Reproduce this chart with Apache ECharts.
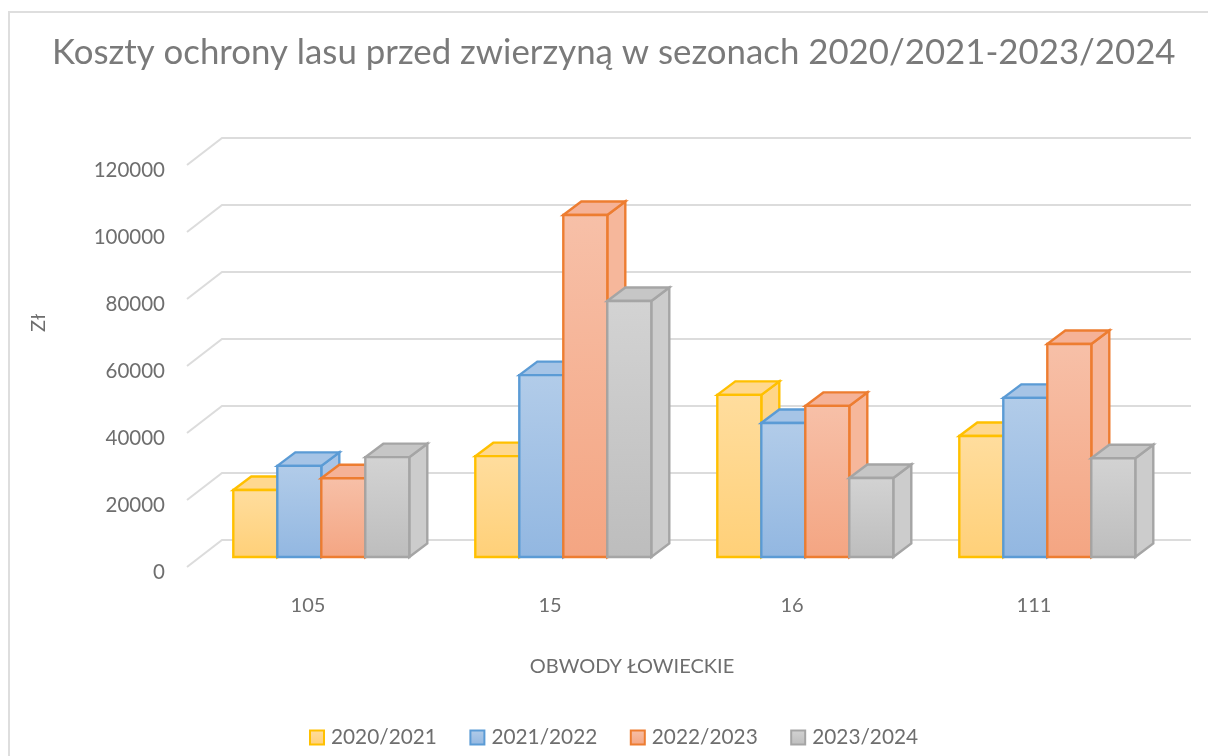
<!DOCTYPE html>
<html><head><meta charset="utf-8">
<style>html,body{margin:0;padding:0;background:#fff}#c{width:1208px;height:756px}</style>
<script src="https://cdn.jsdelivr.net/npm/echarts@6/dist/echarts.min.js"></script>
</head><body><div id="c"></div>
<script>
const categories = ['105', '15', '16', '111'];
const seasons = ['2020/2021', '2021/2022', '2022/2023', '2023/2024'];
const values2020 = [20000, 30100, 48400, 36100];
const values2021 = [27200, 54300, 40000, 47500];
const values2022 = [23500, 102100, 45100, 63600];
const values2023 = [29800, 76400, 23600, 29500];
const yTicks = [0, 20000, 40000, 60000, 80000, 100000, 120000];
const chartTitle = 'Koszty ochrony lasu przed zwierzyną w sezonach 2020/2021-2023/2024';
const xName = 'OBWODY ŁOWIECKIE';
const yName = 'Zł';

const font = 'Lato';
const palette = [
  {border:'#FFC000', top:'#FFDD9E', bottom:'#FFD078', roof:'#FFD88F', side:'#FFD587'},
  {border:'#5B9BD5', top:'#B2CCE9', bottom:'#92B7E1', roof:'#A6C4E6', side:'#A8C4E6'},
  {border:'#ED7D31', top:'#F7C0A8', bottom:'#F4A582', roof:'#F5B297', side:'#F6B79B'},
  {border:'#A5A5A5', top:'#D3D3D3', bottom:'#BDBDBD', roof:'#C6C6C6', side:'#CCCCCC'}
];
const seriesValues = [values2020, values2021, values2022, values2023];

const grad = (p) => new echarts.graphic.LinearGradient(0, 0, 0, 1, [
  {offset: 0, color: p.top}, {offset: 1, color: p.bottom}
]);

function renderBar(sIdx) {
  return function (params, api) {
    const p = palette[sIdx];
    const step = api.size([1, 0])[0];
    const w = 44, depthX = 18, depthY = 13.5;
    const base = api.coord([api.value(0), 0]);
    const top = api.coord([api.value(0), api.value(1)]);
    const x0 = base[0] - step / 2 + 46.3 + sIdx * w;
    const x1 = x0 + w;
    const yb = base[1] - 10;
    const yt = top[1] - 10;
    const st = {stroke: p.border, lineWidth: 2.4, lineJoin: 'miter'};
    return {
      type: 'group',
      children: [
        {type: 'polygon', shape: {points: [[x1, yb], [x1 + depthX, yb - depthY], [x1 + depthX, yt - depthY], [x1, yt]]},
          style: Object.assign({fill: p.side}, st)},
        {type: 'polygon', shape: {points: [[x0, yt], [x0 + depthX, yt - depthY], [x1 + depthX, yt - depthY], [x1, yt]]},
          style: Object.assign({fill: p.roof}, st)},
        {type: 'rect', shape: {x: x0, y: yt, width: w, height: yb - yt},
          style: Object.assign({fill: grad(p)}, st)}
      ]
    };
  };
}

function renderWall(params, api) {
  const cs = params.coordSys;
  const pt = api.coord([0, api.value(1)]);
  const y = pt[1];
  return {
    type: 'polyline',
    shape: {points: [[cs.x, y], [cs.x + 35, y - 27], [cs.x + cs.width + 36, y - 27]]},
    style: {fill: null, stroke: '#DCDCDC', lineWidth: 2}
  };
}

const series = [{
  type: 'custom', name: 'wall', silent: true, z: 1,
  renderItem: renderWall,
  data: yTicks.map(t => [0, t]),
  clip: false, tooltip: {show: false}
}].concat(seasons.map((name, i) => ({
  type: 'custom', name, z: 2 + i,
  renderItem: renderBar(i),
  itemStyle: {color: grad(palette[i]), borderColor: palette[i].border, borderWidth: 2},
  data: seriesValues[i].map((v, c) => [c, v]),
  clip: false
})));

const chart = echarts.init(document.getElementById('c'), null, {renderer: 'canvas'});
chart.setOption({
  animation: false,
  backgroundColor: '#fff',
  textStyle: {fontFamily: font},
  title: {
    text: chartTitle, left: 47, top: 30,
    textStyle: {fontFamily: font, fontSize: 34.8, fontWeight: 'normal', color: '#7A7A7A'}
  },
  grid: {left: 187, top: 165, width: 968, height: 402, containLabel: false},
  xAxis: {
    type: 'category', data: categories,
    axisLine: {show: false}, axisTick: {show: false}, splitLine: {show: false},
    axisLabel: {fontFamily: font, fontSize: 20, color: '#6E6E6E', margin: 29},
    name: xName, nameLocation: 'middle', nameGap: 90,
    nameTextStyle: {fontFamily: font, fontSize: 20, color: '#6E6E6E', padding: [0, 78, 0, 0]}
  },
  yAxis: {
    type: 'value', min: 0, max: 120000, interval: 20000,
    axisLine: {show: false}, axisTick: {show: false}, splitLine: {show: false},
    axisLabel: {fontFamily: font, fontSize: 20.5, color: '#6E6E6E', margin: 22,
      verticalAlign: 'top', lineHeight: 10, formatter: (v) => String(v)},
    name: yName, nameLocation: 'middle', nameGap: 138, nameRotate: 90,
    nameTextStyle: {fontFamily: font, fontSize: 20, color: '#6E6E6E', padding: [0, 0, 0, 86]}
  },
  legend: {
    data: seasons, left: 304, top: 722, icon: 'rect',
    itemWidth: 14, itemHeight: 14, itemGap: 32.5,
    textStyle: {fontFamily: font, fontSize: 20.8, color: '#6E6E6E', padding: [0, 0, 0, 2]},
    selectedMode: false
  },
  graphic: [
    {type: 'line', silent: true, shape: {x1: 9, y1: 12, x2: 1208, y2: 12}, style: {stroke: '#DEDEDE', lineWidth: 2}},
    {type: 'line', silent: true, shape: {x1: 9, y1: 11, x2: 9, y2: 756}, style: {stroke: '#DEDEDE', lineWidth: 2}}
  ],
  series
});
</script></body></html>
